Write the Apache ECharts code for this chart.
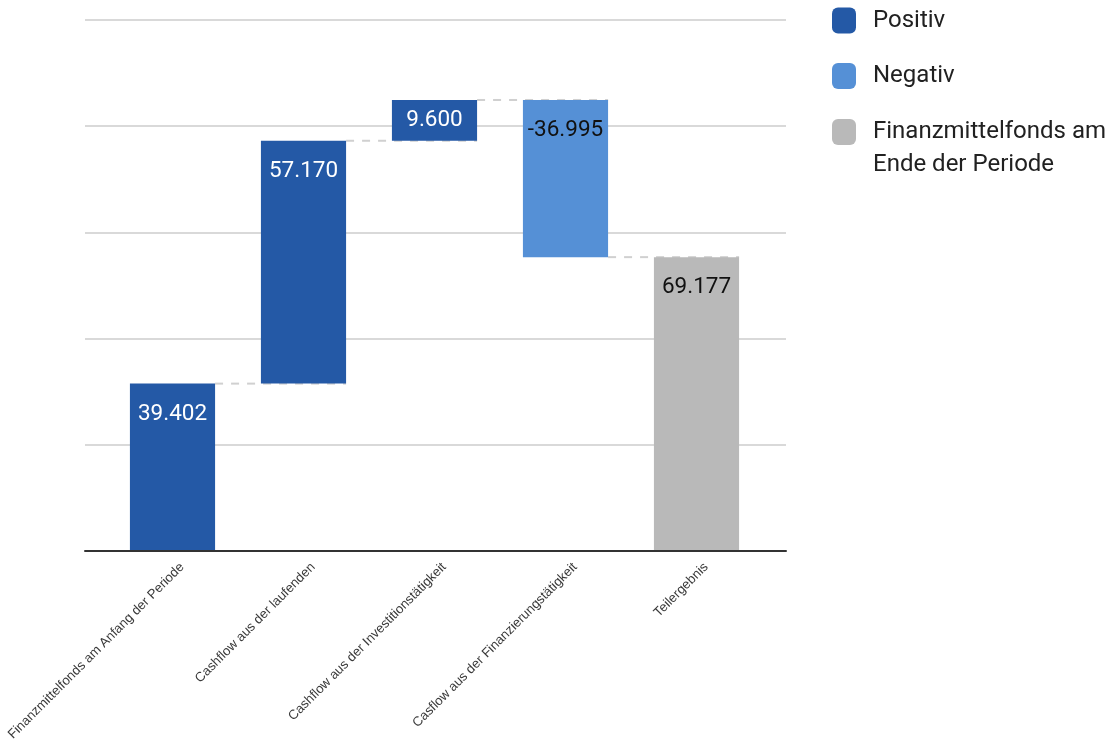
<!DOCTYPE html>
<html>
<head>
<meta charset="utf-8">
<script src="https://cdn.jsdelivr.net/npm/echarts@6/dist/echarts.min.js"></script>
<style>html,body{margin:0;padding:0;background:#fff}#c{width:1115px;height:748px}</style>
</head>
<body>
<div id="c"></div>
<script>
const categories = ['Finanzmittelfonds am Anfang der Periode', 'Cashflow aus der laufenden', 'Cashflow aus der Investitionstätigkeit', 'Casflow aus der Finanzierungstätigkeit', 'Teilergebnis'];
const changes = [39.402, 57.170, 9.600, -36.995];
const totalValue = 69.177;
const seriesNames = ['Positiv', 'Negativ', 'Finanzmittelfonds am\nEnde der Periode'];
const colors = ['#2459a6', '#5590d6', '#b9b9b9'];

// derived from data
const base = [], pos = [], neg = [], tot = [], levels = [];
let run = 0;
changes.forEach((v, i) => {
  const next = run + v;
  base.push(Math.min(run, next));
  pos.push(v >= 0 ? v : '-');
  neg.push(v < 0 ? -v : '-');
  tot.push('-');
  run = next;
  levels.push(run);
});
base.push(0); pos.push('-'); neg.push('-'); tot.push(totalValue);

const fmt = v => v.toFixed(3);
const labelBase = {show: true, fontFamily: 'Roboto', fontSize: 22.5, position: 'insideTop', distance: 19};
const legendCommon = {orient: 'vertical', left: 832, padding: 0, itemWidth: 24, itemHeight: 26, icon: 'roundRect'};

const chart = echarts.init(document.getElementById('c'), null, {renderer: 'canvas'});
chart.setOption({
  animation: false,
  backgroundColor: '#fff',
  grid: [
    {left: 85, right: 329, top: 20, bottom: 197, outerBoundsMode: 'none', containLabel: false},
    {left: 107, right: 353, top: 20, bottom: 197, outerBoundsMode: 'none', containLabel: false}
  ],
  xAxis: [
    {type: 'category', gridIndex: 0, data: categories, axisLine: {lineStyle: {color: '#333', width: 2}}, axisTick: {show: false}, axisLabel: {show: false}, z: 5},
    {type: 'category', gridIndex: 1, data: categories, axisLine: {show: false}, axisTick: {show: false},
     axisLabel: {rotate: 45, interval: 0, margin: 4.5, verticalAlign: 'top', lineHeight: 27, hideOverlap: false,
                 fontFamily: 'Liberation Sans', fontSize: 13.2, color: '#3a3a3a'}}
  ],
  yAxis: [
    {type: 'value', gridIndex: 0, min: 0, max: 125, interval: 25, axisLabel: {show: false}, axisLine: {show: false}, axisTick: {show: false},
     splitLine: {lineStyle: {color: '#cccccc', width: 1.5}}},
    {type: 'value', gridIndex: 1, min: 0, max: 125, interval: 25, axisLabel: {show: false}, axisLine: {show: false}, axisTick: {show: false}, splitLine: {show: false}}
  ],
  legend: [
    Object.assign({}, legendCommon, {
      top: 7.5, itemGap: 29.5,
      textStyle: {fontFamily: 'Roboto', fontSize: 24, color: '#212121', lineHeight: 26, padding: [0, 0, 0, 12]},
      data: [seriesNames[0], seriesNames[1]]
    }),
    Object.assign({}, legendCommon, {
      top: 82.5,
      formatter: name => '\n' + name,
      textStyle: {fontFamily: 'Roboto', fontSize: 24, color: '#212121', lineHeight: 33, padding: [0, 0, 0, 12]},
      data: [seriesNames[2]]
    })
  ],
  series: [
    {type: 'custom', xAxisIndex: 1, yAxisIndex: 1, z: 1, silent: true,
     data: levels.map((v, i) => [i, v]),
     renderItem: function (params, api) {
       const i = api.value(0);
       const y = api.coord([i, api.value(1)])[1];
       const half = api.size([1, 0])[0] * 0.65 / 2;
       const x1 = api.coord([i, 0])[0] + half;
       const x2 = api.coord([i + 1, 0])[0] + half;
       return {type: 'line', shape: {x1: x1, y1: y, x2: x2, y2: y},
               style: {stroke: '#d0d0d0', lineWidth: 2, lineDash: [8, 8]}};
     }},
    {name: 'base', type: 'bar', xAxisIndex: 1, yAxisIndex: 1, stack: 'w', barWidth: '65%', z: 2,
     itemStyle: {color: 'transparent'}, data: base, silent: true},
    {name: seriesNames[0], type: 'bar', xAxisIndex: 1, yAxisIndex: 1, stack: 'w', barWidth: '65%', z: 2,
     itemStyle: {color: colors[0]},
     label: Object.assign({}, labelBase, {color: '#fff', formatter: p => fmt(p.value)}),
     data: pos.map(v => (v !== '-' && v < 12) ? {value: v, label: {position: 'inside'}} : v)},
    {name: seriesNames[1], type: 'bar', xAxisIndex: 1, yAxisIndex: 1, stack: 'w', barWidth: '65%', z: 2,
     itemStyle: {color: colors[1]},
     label: Object.assign({}, labelBase, {color: '#111', formatter: p => '-' + fmt(p.value)}),
     data: neg},
    {name: seriesNames[2], type: 'bar', xAxisIndex: 1, yAxisIndex: 1, stack: 'w', barWidth: '65%', z: 2,
     itemStyle: {color: colors[2]},
     label: Object.assign({}, labelBase, {color: '#111', formatter: p => fmt(p.value)}),
     data: tot}
  ]
});
</script>
</body>
</html>
